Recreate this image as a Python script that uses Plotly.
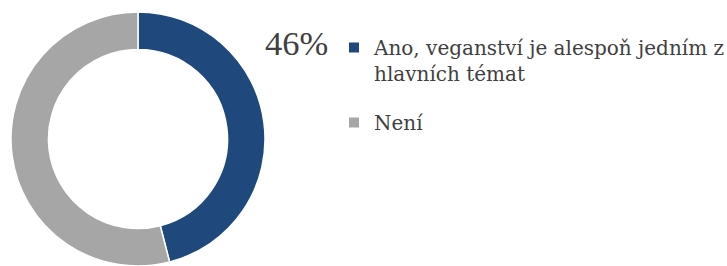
import plotly.graph_objects as go

labels = ["Ano, veganství je alespoň jedním z", "Není"]
legend_labels = ["Ano, veganství je alespoň jedním z<br>hlavních témat", "Není"]
values = [46, 54]
colors = ["#1F497D", "#A6A6A6"]

share = values[0] / sum(values)

fig = go.Figure()
fig.add_trace(go.Pie(
    labels=labels,
    values=values,
    hole=0.705,
    sort=False,
    direction="clockwise",
    rotation=0,
    marker=dict(colors=colors, line=dict(color="white", width=1.5)),
    textinfo="none",
    hoverinfo="label+percent",
    showlegend=False,
    domain=dict(x=[10/727, 266/727], y=[0.0, 0.955]),
))

# legend entries (one per category, separate groups for spacing)
for i, (lab, col) in enumerate(zip(legend_labels, colors)):
    fig.add_trace(go.Scatter(
        x=[None], y=[None], mode="markers",
        marker=dict(symbol="square", size=10, color=col),
        name=lab, legendgroup=f"g{i}", showlegend=True, hoverinfo="skip",
    ))

fig.add_annotation(
    x=296/727, y=1 - 43/266, xref="paper", yref="paper",
    text=f"{share*100:.0f}%", showarrow=False,
    font=dict(family="Liberation Serif", size=34.5, color="#404040"),
    xanchor="center", yanchor="middle",
)

fig.update_layout(
    width=727, height=266,
    margin=dict(l=0, r=0, t=0, b=0, autoexpand=False),
    paper_bgcolor="white", plot_bgcolor="white",
    xaxis=dict(visible=False), yaxis=dict(visible=False),
    showlegend=True,
    legend=dict(
        x=334/727, y=1 - 28/266, xanchor="left", yanchor="top",
        font=dict(family="DejaVu Serif", size=20, color="#404040"),
        bgcolor="rgba(0,0,0,0)", borderwidth=0,
        tracegroupgap=20, valign="top",
    ),
)

fig.write_html("out.html", config={"displayModeBar": False},
               post_script="document.body.style.margin='0';")
